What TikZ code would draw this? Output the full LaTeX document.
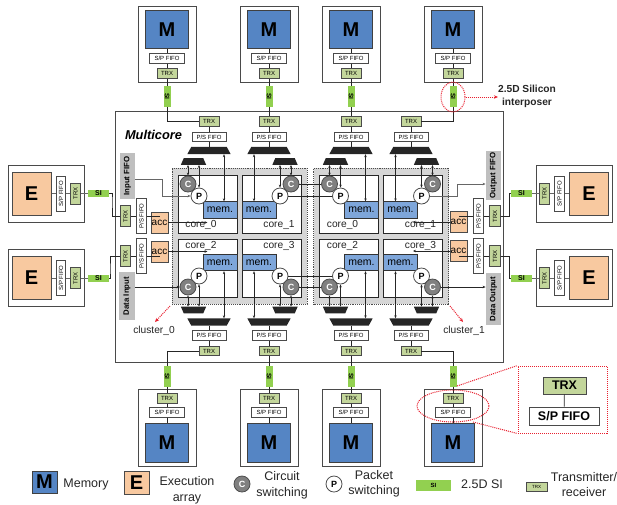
\documentclass[tikz,border=0pt]{standalone}
\usepackage{fontspec}
\setmainfont{Liberation Sans}
\usetikzlibrary{arrows.meta,shapes.geometric}
\definecolor{memblue}{HTML}{5585C4}
\definecolor{smallblue}{HTML}{7EA6DA}
\definecolor{exeorange}{HTML}{F8C9A0}
\definecolor{trxgreen}{HTML}{C3D69B}
\definecolor{sigreen}{HTML}{92D050}
\definecolor{edgegray}{HTML}{4A4A4A}
\definecolor{dotred}{HTML}{E8202F}
\tikzset{
  hostbox/.style={draw=edgegray,line width=1pt,fill=white,minimum width=58pt,minimum height=76pt,inner sep=0pt},
  membox/.style={draw=black!75,line width=1pt,fill=memblue,minimum width=43pt,minimum height=38pt,inner sep=0pt,font=\fontsize{20}{20}\selectfont\bfseries},
  exebox/.style={draw=edgegray,line width=1pt,fill=exeorange,minimum width=39pt,minimum height=43pt,inner sep=0pt,font=\fontsize{20}{20}\selectfont\bfseries},
  fifobox/.style={draw=edgegray,line width=.7pt,fill=white,minimum width=35pt,minimum height=9.5pt,inner sep=0pt,font=\fontsize{6}{6}\selectfont},
  trxbox/.style={draw=edgegray,line width=.8pt,fill=trxgreen,minimum width=20pt,minimum height=9.5pt,inner sep=0pt,font=\fontsize{6}{6}\selectfont},
  sibox/.style={fill=sigreen,minimum width=21pt,minimum height=7pt,inner sep=0pt,font=\fontsize{6.5}{6.5}\selectfont\bfseries},
  corebox/.style={draw=black!85,line width=.9pt,fill=white,minimum width=59pt,minimum height=58pt,inner sep=0pt},
  clusterbox/.style={draw=black!70,line width=.9pt,densely dotted,fill=black!16,minimum width=135pt,minimum height=136pt,inner sep=0pt},
  smallmem/.style={draw=black!80,line width=.8pt,fill=smallblue,minimum width=34pt,minimum height=16.5pt,inner sep=0pt,font=\fontsize{10.5}{10.5}\selectfont},
  accbox/.style={draw=edgegray,line width=.6pt,fill=exeorange,minimum width=17pt,minimum height=21pt,inner sep=0pt,font=\fontsize{10}{10}\selectfont},
  switchc/.style={circle,draw=black!70,line width=.8pt,fill=black!50,text=white,minimum size=16pt,inner sep=0pt,font=\fontsize{9}{9}\selectfont\bfseries},
  switchp/.style={circle,draw=black!70,line width=.8pt,fill=white,minimum size=16pt,inner sep=0pt,font=\fontsize{9}{9}\selectfont\bfseries},
  bigmux/.style={minimum width=43pt,minimum height=7pt,inner sep=0pt},
  smallmux/.style={minimum width=25pt,minimum height=6.5pt,inner sep=0pt},
  muxfill/.style={fill=black!85},
  sidelabel/.style={fill=black!25,rotate=90,inner sep=0pt,minimum height=15.5pt,font=\fontsize{7.8}{8}\selectfont\bfseries},
  wire/.style={draw=black!85,line width=.7pt},
  graywire/.style={draw=black!60,line width=1pt},
  biwire/.style={draw=black!85,line width=.6pt,{Stealth[length=3pt,width=2.4pt]}-{Stealth[length=3pt,width=2.4pt]}},
  inwire/.style={draw=black!85,line width=.7pt,-{Stealth[length=3pt,width=2.6pt]}},
  redline/.style={draw=dotred,line width=1pt,densely dotted},
  redring/.style={ellipse,draw=dotred,line width=1pt,densely dotted,inner sep=0pt},
  textlabel/.style={inner sep=0pt,text=black!85,font=\fontsize{10.2}{10.2}\selectfont},
  legendlabel/.style={inner sep=0pt,align=center,text=black!85,font=\fontsize{12.5}{15.5}\selectfont},
}
\begin{document}
\begin{tikzpicture}[x=1pt,y=-1pt]
  \useasboundingbox (0,0) rectangle (617,504);
  \node[draw=edgegray,line width=1pt,minimum width=388pt,minimum height=251pt,inner sep=0pt] (multicore) at (309,236.5) {};
  \node[inner sep=0pt,font=\fontsize{12.8}{13}\selectfont\bfseries\itshape] (multilabel) at (153.5,135) {Multicore};
  % memory stacks on top and below
  \foreach \id/\cx in {a/167,b/269,c/351,d/453} {
    \node[hostbox] (hostt\id) at (\cx,44) {};
    \node[membox] (memt\id) at (\cx,29.5) {M};
    \node[fifobox] (spt\id) at (\cx,58.5) {S/P FIFO};
    \node[trxbox] (trxm\id) at (\cx,73.5) {TRX};
    \node[sibox,rotate=-90] (sit\id) at (\cx,96.5) {SI};
    \draw[wire] (memt\id) -- (spt\id);
    \draw[wire] (spt\id) -- (trxm\id);
    \draw[wire] (trxm\id) -- (sit\id);
    \node[hostbox,minimum height=77pt] (hostb\id) at (\cx,427.5) {};
    \node[trxbox] (trxn\id) at (\cx,398.5) {TRX};
    \node[fifobox] (spb\id) at (\cx,412.5) {S/P FIFO};
    \node[membox,minimum height=39pt] (memb\id) at (\cx,442.5) {M};
    \node[sibox,rotate=-90] (sib\id) at (\cx,376.5) {SI};
    \draw[wire] (sib\id) -- (trxn\id);
    \draw[wire] (trxn\id) -- (spb\id);
    \draw[wire] (spb\id) -- (memb\id);
  }
  % two clusters of four cores
  \foreach \cl/\ox in {a/0,b/141.5} {
    \begin{scope}[xshift=\ox pt]
      \node[clusterbox] (cluster\cl) at (239.5,236) {};
      \foreach \n/\cx/\cy/\mx/\my in {0/207.5/204/220/210,1/271.5/204/259/210,2/207.5/268/220/262.5,3/271.5/268/259/262.5} {
        \node[corebox] (core\cl\n) at (\cx,\cy) {};
        \node[smallmem] (mem\cl\n) at (\mx,\my) {mem.};
      }
      \node[textlabel] (namel\cl0) at (201,225) {core\_0};
      \node[textlabel] (namel\cl1) at (279,225) {core\_1};
      \node[textlabel] (namel\cl2) at (201,246) {core\_2};
      \node[textlabel] (namel\cl3) at (279,246) {core\_3};
      \node[switchc] (c\cl0) at (188,184) {C};
      \node[switchp] (p\cl0) at (199,196) {P};
      \node[switchc] (c\cl1) at (291,184) {C};
      \node[switchp] (p\cl1) at (280,196) {P};
      \node[switchp] (p\cl2) at (199,276) {P};
      \node[switchc] (c\cl2) at (188,287) {C};
      \node[switchp] (p\cl3) at (280,276) {P};
      \node[switchc] (c\cl3) at (291,287) {C};
    \end{scope}
  }
  % ports at the top and the bottom of a cluster
  \foreach \cl/\n/\s/\cx/\sx/\dx in {a/0/2/209/193.5/4,a/1/3/269/285/-5,b/0/2/351/335.5/4,b/1/3/411/426.5/-5} {
    \node[trxbox] (trxt\cl\n) at (\cx,121.5) {TRX};
    \node[fifobox,minimum width=34pt] (fifot\cl\n) at (\cx,137) {P/S FIFO};
    \node[bigmux] (bigt\cl\n) at (\cx,150.5) {};
    \fill[muxfill] (bigt\cl\n.south west) -- (bigt\cl\n.south east) -- ([xshift=-4pt]bigt\cl\n.north east) -- ([xshift=4pt]bigt\cl\n.north west) -- cycle;
    \node[smallmux] (smt\cl\n) at (\sx,161.5) {};
    \fill[muxfill] (smt\cl\n.south west) -- (smt\cl\n.south east) -- ([xshift=-3pt]smt\cl\n.north east) -- ([xshift=3pt]smt\cl\n.north west) -- cycle;
    \node[trxbox] (trxb\cl\n) at (\cx,351) {TRX};
    \node[fifobox,minimum width=34pt] (fifob\cl\n) at (\cx,335.5) {P/S FIFO};
    \node[bigmux] (bigb\cl\n) at (\cx,322) {};
    \fill[muxfill] (bigb\cl\n.north west) -- (bigb\cl\n.north east) -- ([xshift=-4pt]bigb\cl\n.south east) -- ([xshift=4pt]bigb\cl\n.south west) -- cycle;
    \node[smallmux] (smb\cl\n) at (\sx,310) {};
    \fill[muxfill] (smb\cl\n.north west) -- (smb\cl\n.north east) -- ([xshift=-3pt]smb\cl\n.south east) -- ([xshift=3pt]smb\cl\n.south west) -- cycle;
    \draw[wire] (trxt\cl\n) -- (fifot\cl\n);
    \draw[wire] (fifot\cl\n) -- (bigt\cl\n);
    \draw[wire] (trxb\cl\n) -- (fifob\cl\n);
    \draw[wire] (fifob\cl\n) -- (bigb\cl\n);
    \draw[biwire] (c\cl\n.north) -- (c\cl\n.north |- smt\cl\n.south);
    \draw[biwire] (p\cl\n.north) -- (p\cl\n.north |- smt\cl\n.south);
    \draw[biwire] ([xshift=\dx pt]mem\cl\n.north) -- ([xshift=\dx pt]mem\cl\n.north |- bigt\cl\n.south);
    \draw[biwire] (c\cl\s.south) -- (c\cl\s.south |- smb\cl\n.north);
    \draw[biwire] (p\cl\s.south) -- (p\cl\s.south |- smb\cl\n.north);
    \draw[biwire] ([xshift=\dx pt]mem\cl\s.south) -- ([xshift=\dx pt]mem\cl\s.south |- bigb\cl\n.north);
  }
  \draw[wire] (ca1) -- (cb0);
  \draw[wire] (pa1) -- (pb0);
  \draw[wire] (pa3) -- (pb2);
  \draw[wire] (ca3) -- (cb2);
  \draw[wire] (sita) |- (trxta0);
  \draw[wire] (sitb) -- (sitb |- trxta1.north);
  \draw[wire] (sitc) -- (sitc |- trxtb0.north);
  \draw[wire] (sitd) |- (trxtb1);
  \draw[wire] (trxba0) -| (siba);
  \draw[wire] (trxba1) -- (sibb);
  \draw[wire] (trxbb0) -- (sibc);
  \draw[wire] (trxbb1) -| (sibd);
  % side labels
  \node[sidelabel,minimum width=46pt] (inputfifo) at (127.5,176) {Input FIFO};
  \node[sidelabel,minimum width=48pt] (datainput) at (127,296) {Data Input};
  \node[sidelabel,minimum width=49pt] (outputfifo) at (493.5,175.5) {Output FIFO};
  \node[sidelabel,minimum width=52pt] (dataoutput) at (493.5,299) {Data Output};
  \coordinate (bendin) at (162,179);
  \coordinate (bendout) at (457,184);
  \draw[graywire,-{Stealth[length=3pt,width=2.6pt]}] (bendin -| inputfifo.south) -- (bendin) |- (pa0);
  \draw[graywire,-{Stealth[length=3pt,width=2.6pt]}] (pb1) -| (bendout) -- (bendout -| outputfifo.north);
  \draw[inwire] (datainput.south |- ca2) -- (ca2);
  \draw[inwire] (cb3) -- (cb3 -| dataoutput.north);
  % execution arrays at both sides
  \foreach \id/\hx/\ex/\sx/\tx/\ix/\ey in {l0/46/31.5/61/75.5/98.5/193.5,l1/46/31.5/61/75.5/98.5/278,r0/574/589/559.5/544.5/521.5/193.5,r1/574/589/559.5/544.5/521.5/278} {
    \node[hostbox,minimum width=76pt,minimum height=57pt] (host\id) at (\hx,\ey) {};
    \node[exebox] (exe\id) at (\ex,\ey) {E};
    \node[fifobox,rotate=90] (spe\id) at (\sx,\ey) {S/P FIFO};
    \node[trxbox,rotate=90,minimum width=21pt] (trxe\id) at (\tx,\ey) {TRX};
    \node[sibox,font=\fontsize{7}{7}\selectfont\bfseries] (sie\id) at (\ix,\ey) {SI};
    \draw[graywire] (exe\id) -- (spe\id);
    \draw[graywire] (spe\id) -- (trxe\id);
    \draw[graywire] (trxe\id) -- (sie\id);
  }
  \foreach \id/\ax/\fx/\tx/\ay/\ty/\core in {l0/159.5/141.5/125.5/222.5/216/corea0,l1/159.5/141.5/125.5/251.5/256/corea2,r0/458.5/478.5/495/222/216/coreb1,r1/458.5/478.5/495/251/256/coreb3} {
    \node[accbox] (acc\id) at (\ax,\ay) {acc};
    \node[fifobox,rotate=90,minimum height=10.5pt] (fifo\id) at (\fx,\ty) {P/S FIFO};
    \node[trxbox,rotate=90,minimum width=21pt,minimum height=10.5pt] (trx\id) at (\tx,\ty) {TRX};
    \draw[wire] (trx\id) -- (fifo\id);
    \draw[wire] (fifo\id) -- (fifo\id -| acc\id);
    \draw[inwire] (acc\id) -- (acc\id -| \core);
  }
  \coordinate (siwirea) at (112,200);
  \coordinate (siwireb) at (110,270);
  \coordinate (siwirec) at (509,200);
  \coordinate (siwired) at (509,270);
  \draw[wire] (siel0) -| (siwirea) |- (trxl0);
  \draw[wire] (siel1) -| (siwireb) |- (trxl1);
  \draw[wire] (trxr0) -| (siwirec) |- (sier0);
  \draw[wire] (trxr1) -| (siwired) |- (sier1);
  % red remarks
  \node[redring,minimum width=24pt,minimum height=30pt] (ringa) at (453,97) {};
  \node[inner sep=0pt,align=center,text=black!85,font=\fontsize{10.2}{13}\selectfont\bfseries] (silabel) at (527,96.5) {2.5D Silicon\\interposer};
  \draw[redline,-{Stealth[length=4pt,width=3.5pt]}] (ringa) -- (ringa -| silabel.west);
  \node[redring,minimum width=72pt,minimum height=32pt] (ringb) at (453,406) {};
  \node[draw=dotred,line width=1pt,densely dotted,minimum width=89pt,minimum height=67pt,inner sep=0pt] (inset) at (562.5,399.5) {};
  \node[trxbox,minimum width=43pt,minimum height=17pt,font=\fontsize{12.5}{12.5}\selectfont\bfseries] (insettrx) at (564.5,385.5) {TRX};
  \node[fifobox,minimum width=70pt,minimum height=18pt,font=\fontsize{12.5}{12.5}\selectfont\bfseries] (insetfifo) at (564,416) {S/P FIFO};
  \draw[wire] (insettrx) -- (insetfifo);
  \coordinate (insetup) at (457,386);
  \coordinate (insetdown) at (473,422);
  \draw[redline] (insetup) -- (inset.north west);
  \draw[redline] (insetdown) -- (inset.south west);
  \node[textlabel] (clusterlabela) at (154,331) {cluster\_0};
  \node[textlabel] (clusterlabelb) at (464,331) {cluster\_1};
  \coordinate (cornera) at (170,306);
  \coordinate (cornerb) at (450,306);
  \coordinate (cornerc) at (155,322);
  \coordinate (cornerd) at (463,322);
  \draw[redline,-{Stealth[length=4pt,width=3.5pt]}] (cornera) -- (cornerc);
  \draw[redline,-{Stealth[length=4pt,width=3.5pt]}] (cornerb) -- (cornerd);
  % legend
  \node[membox,minimum width=25pt,minimum height=22pt] (legm) at (44.5,482) {M};
  \node[legendlabel] (legmtext) at (86,484) {Memory};
  \node[exebox,minimum width=25pt,minimum height=23pt] (lege) at (136.5,482.5) {E};
  \node[legendlabel] (legetext) at (187,490.5) {Execution\\array};
  \node[switchc] (legc) at (242,484) {C};
  \node[legendlabel] (legctext) at (282,485.5) {Circuit\\switching};
  \node[switchp] (legp) at (334,484) {P};
  \node[legendlabel] (legptext) at (374,484) {Packet\\switching};
  \node[sibox,minimum width=35pt,minimum height=11pt,font=\fontsize{6}{6}\selectfont\bfseries] (legsi) at (433.5,485.5) {SI};
  \node[legendlabel] (legsitext) at (482,484) {2.5D SI};
  \node[trxbox,minimum width=21pt,minimum height=9pt,font=\fontsize{4.5}{4.5}\selectfont] (legtrx) at (536.5,486.5) {TRX};
  \node[legendlabel,anchor=north] (legtrxtext) at (584,472) {Transmitter/\\receiver};
\end{tikzpicture}
\end{document}
